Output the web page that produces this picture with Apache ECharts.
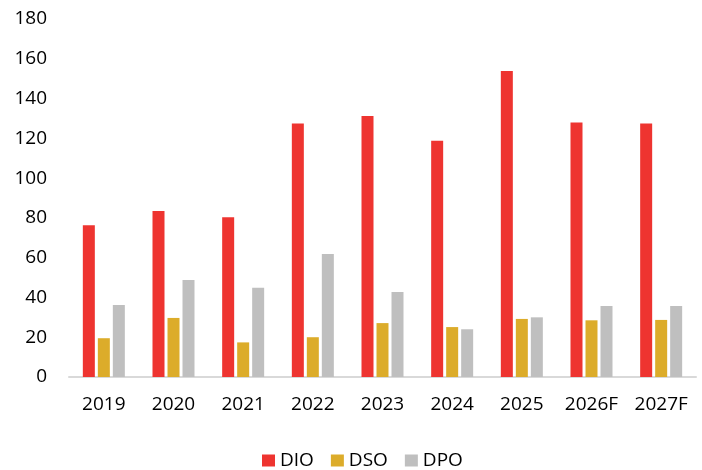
<!DOCTYPE html>
<html style="height: 100%">
<head>
<meta charset="utf-8">
</head>
<body style="height: 100%; margin: 0; background: #fff">
<div id="container" style="width: 702px; height: 470px"></div>
<script type="text/javascript" src="https://cdn.jsdelivr.net/npm/echarts@6/dist/echarts.min.js"></script>
<script type="text/javascript">
var years = ['2019', '2020', '2021', '2022', '2023', '2024', '2025', '2026F', '2027F'];
var dio = [76.3, 83.5, 80.3, 127.5, 131.2, 118.8, 153.8, 127.9, 127.5];
var dso = [19.5, 29.7, 17.4, 20.0, 27.1, 25.1, 29.2, 28.5, 28.7];
var dpo = [36.2, 48.8, 44.9, 61.8, 42.7, 24.0, 30.0, 35.7, 35.7];

var font = 'Open Sans';
var chart = echarts.init(document.getElementById('container'));

function bar(name, data, color) {
    return {
        name: name,
        type: 'bar',
        data: data,
        barWidth: 12,
        barGap: '25%',
        itemStyle: { color: color },
        animation: false
    };
}

var option = {
    backgroundColor: '#fff',
    grid: { left: 69, right: 6, top: 19, bottom: 93 },
    legend: {
        data: ['DIO', 'DSO', 'DPO'],
        left: 257,
        top: 446,
        itemWidth: 13,
        itemHeight: 12,
        itemGap: 17,
        icon: 'rect',
        textStyle: { fontFamily: font, fontSize: 19, color: '#000' }
    },
    xAxis: {
        type: 'category',
        data: years,
        axisLine: { lineStyle: { color: '#d9d9d9', width: 2 } },
        axisTick: { show: false },
        axisLabel: { fontFamily: font, fontSize: 19, color: '#000', margin: 18 }
    },
    yAxis: {
        type: 'value',
        min: 0,
        max: 180,
        interval: 20,
        splitLine: { show: false },
        axisLine: { show: false },
        axisTick: { show: false },
        axisLabel: { fontFamily: font, fontSize: 19, color: '#000', margin: 22 }
    },
    series: [
        bar('DIO', dio, '#ee3430'),
        bar('DSO', dso, '#dcac2a'),
        bar('DPO', dpo, '#bfbfbf')
    ]
};
chart.setOption(option);
</script>
</body>
</html>
